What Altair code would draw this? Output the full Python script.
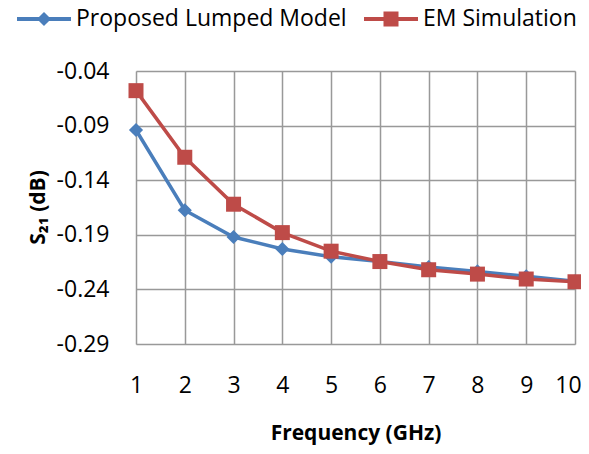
import altair as alt
import pandas as pd

freq = [1, 2, 3, 4, 5, 6, 7, 8, 9, 10]
lumped = [-0.094, -0.1675, -0.192, -0.203, -0.210, -0.2145, -0.2195, -0.2235, -0.228, -0.2325]
em = [-0.058, -0.119, -0.162, -0.188, -0.205, -0.2145, -0.222, -0.226, -0.2305, -0.233]
series_names = ["Proposed Lumped Model", "EM Simulation"]
colors = ["#4A7EBB", "#BE4B48"]
y_ticks = [-0.29, -0.24, -0.19, -0.14, -0.09, -0.04]

rows = []
for f, a, b in zip(freq, lumped, em):
    rows.append({"freq": f, "s21": a, "series": series_names[0]})
    rows.append({"freq": f, "s21": b, "series": series_names[1]})
df = pd.DataFrame(rows)

FONT = "Open Sans"

x = alt.X("freq:Q", scale=alt.Scale(domain=[1, 10], nice=False, zero=False),
          axis=alt.Axis(values=freq, title="Frequency (GHz)", labelFontSize=23,
                        labelFont=FONT, labelColor="#000", labelPadding=30,
                        labelOffset={"condition": {"test": "datum.value == 10", "value": -7}, "value": 0},
                        tickSize=0, domain=False, gridColor="#999999", gridWidth=1.5,
                        titleFont=FONT, titleFontSize=21, titleFontWeight="bold",
                        titleColor="#000", titleY=95, titleBaseline="alphabetic",
                        labelFlush=False))
y = alt.Y("s21:Q", scale=alt.Scale(domain=[-0.29, -0.04], nice=False, zero=False),
          axis=alt.Axis(values=y_ticks, title="S₂₁ (dB)",
                        labelExpr="replace(format(datum.value, '.2f'), '\u2212', '-')",
                        labelFontSize=23, labelFont=FONT, labelColor="#000",
                        labelPadding=27, tickSize=0, domain=False,
                        gridColor="#999999", gridWidth=1.5,
                        titleFont=FONT, titleFontSize=21, titleFontWeight="bold",
                        titleColor="#000", titleX=-98, titleY=136,
                        titleAngle=-90, titleBaseline="middle", titleAlign="center",
                        labelFlush=False))

legend_paths = [
    "M-1,-0.074H1V0.074H-1Z M0,-0.26L0.26,0L0,0.26L-0.26,0Z",
    "M-1,-0.074H1V0.074H-1Z M-0.278,-0.278H0.278V0.278H-0.278Z",
]

legend_spec = alt.Legend(title=None, orient="none", direction="horizontal",
                         legendX=-119, legendY=-79, symbolSize=2916,
                         symbolOpacity=1, symbolStrokeWidth=0,
                         labelFont=FONT, labelFontSize=23, labelColor="#000",
                         labelOffset=5, columnPadding=17, padding=0,
                         labelLimit=400)

color = alt.Color("series:N", scale=alt.Scale(domain=series_names, range=colors),
                  legend=legend_spec)
shape = alt.Shape("series:N", scale=alt.Scale(domain=series_names, range=legend_paths),
                  legend=legend_spec)

lines = alt.Chart(df).mark_line(strokeWidth=3.5).encode(x=x, y=y, color=color)

diamonds = alt.Chart(df).transform_filter(
    alt.datum.series == series_names[0]
).mark_point(shape="diamond", filled=True, size=200, opacity=1, color=colors[0]).encode(x=x, y=y)

squares = alt.Chart(df).transform_filter(
    alt.datum.series == series_names[1]
).mark_point(shape="square", filled=True, size=225, opacity=1, color=colors[1]).encode(x=x, y=y)

legend_layer = alt.Chart(df).mark_point(filled=True, opacity=0, size=1).encode(
    x=x, y=y, shape=shape, color=color,
)

chart = alt.layer(lines, diamonds, squares, legend_layer).properties(
    width=439, height=273,
    autosize=alt.AutoSizeParams(type="none"),
    padding={"left": 128, "top": 63, "right": 6, "bottom": 102},
).configure_view(stroke="#999999", strokeWidth=1.5).configure(background="white")

chart.save("out.html", embed_options={"renderer": "svg", "actions": False})
